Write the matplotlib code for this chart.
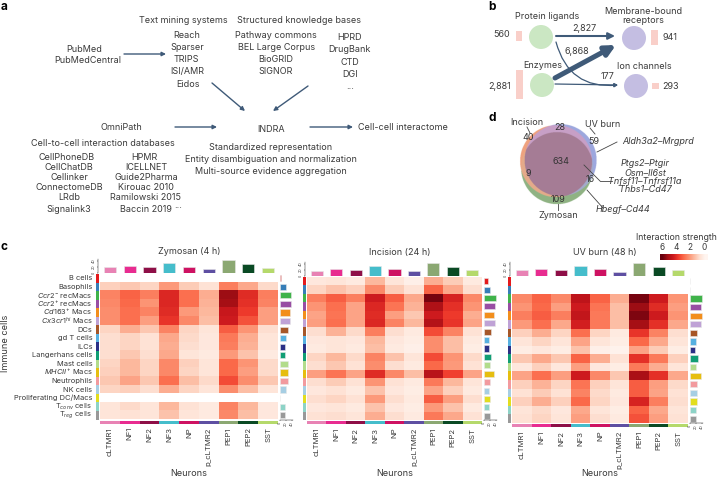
import numpy as np
from matplotlib import pyplot as plt
from matplotlib.colors import to_rgb
from matplotlib.patches import Circle

plt.rcParams['font.family'] = ['Inter', 'DejaVu Sans']
plt.rcParams['font.size'] = 6.5
plt.rcParams['mathtext.fontset'] = 'custom'
plt.rcParams['mathtext.rm'] = 'Inter'
plt.rcParams['mathtext.it'] = 'Inter:italic'

W, H = 722, 479
nan = np.nan

neurons = ['cLTMR1', 'NF1', 'NF2', 'NF3', 'NP', 'p_cLTMR2', 'PEP1', 'PEP2', 'SST']
immune = ['B cells', 'Basophils', '$\\mathit{Ccr2}^{-}$ recMacs', '$\\mathit{Ccr2}^{+}$ recMacs',
          '$\\mathit{Cd163}^{+}$ Macs', '$\\mathit{Cx3cr1}^{hi}$ Macs', 'DCs', 'gd T cells', 'ILCs',
          'Langerhans cells', 'Mast cells', '$\\mathit{MHCII}^{+}$ Macs', 'Neutrophils', 'NK cells',
          'Proliferating DC/Macs', 'T$_{conv}$ cells', 'T$_{reg}$ cells']
neuron_colors = ['#E882B4', '#E82C90', '#8E0F47', '#45BDCB', '#CE1262', '#5E4FA2', '#8BA872', '#0A4A24', '#B5D96B']
immune_colors = ['#E41A1C', '#377EB8', '#3FB34A', '#984EA3', '#F28E1C', '#BFA2D6', '#A65628', '#56B0E0', '#2B3086',
                 '#119E74', '#B2DC8B', '#E6BE10', '#F29A9E', '#A6CEE3', '#E2DD1E', '#8DD3C7', '#999999']

zymosan = [[nan] * 9,
           [1.1, 1.3, 1.0, 2.2, 1.2, 0.7, 2.7, 1.9, 0.9],
           [2.6, 3.2, 2.7, 4.3, 3.0, 1.8, 5.5, 4.2, 2.7],
           [2.5, 3.1, 2.3, 4.3, 3.0, 1.7, 5.4, 4.1, 2.6],
           [2.4, 3.0, 2.6, 4.2, 2.2, 1.6, 4.7, 3.9, 2.1],
           [2.4, 3.0, 2.1, 4.0, 2.5, 1.5, 4.6, 3.5, 2.1],
           [1.0, 1.8, 1.3, 2.6, 1.0, 0.6, 3.3, 2.3, 0.8],
           [0.8, 1.0, 0.7, 1.9, 0.9, 0.5, 2.8, 1.8, 0.6],
           [0.8, 1.0, 0.7, 1.8, 0.8, 0.5, 2.7, 1.7, 0.6],
           [0.8, 1.3, 0.8, 1.9, 0.6, 0.4, 2.2, 1.4, 0.4],
           [1.0, 1.6, 1.0, 2.5, 1.1, 0.6, 3.1, 2.3, 0.9],
           [1.1, 1.6, 1.0, 2.5, 1.0, 0.6, 3.1, 2.1, 0.9],
           [1.3, 2.0, 1.3, 3.0, 1.5, 0.9, 3.6, 2.4, 1.3],
           [1.0, 1.1, 0.8, 1.8, 1.0, 0.6, 2.4, 1.5, 0.6],
           [nan] * 9,
           [0.6, 0.9, 0.6, 1.6, 0.7, 0.4, 2.6, 1.6, 0.5],
           [0.6, 0.7, 0.6, 1.4, 0.6, 0.4, 2.5, 1.5, 0.5]]
incision = [[0.5, 0.6, 0.4, 1.6, 0.6, 0.2, 1.8, 1.2, 0.4],
            [1.0, 1.4, 1.1, 2.5, 1.2, 0.7, 3.2, 1.9, 0.8],
            [2.7, 3.3, 2.7, 4.6, 3.3, 1.9, 6.0, 4.4, 2.5],
            [2.3, 3.0, 2.0, 4.3, 2.9, 1.7, 5.2, 4.1, 2.3],
            [2.0, 2.9, 2.0, 4.2, 2.1, 1.3, 4.6, 3.9, 1.8],
            [2.1, 3.0, 2.0, 4.3, 2.6, 1.6, 5.1, 4.0, 2.0],
            [0.8, 1.7, 0.9, 2.7, 0.8, 0.4, 3.6, 2.6, 0.7],
            [0.5, 0.6, 0.5, 1.6, 0.5, 0.3, 2.4, 1.5, 0.4],
            [0.4, 0.6, 0.4, 1.5, 0.4, 0.2, 2.4, 1.5, 0.3],
            [1.0, 1.6, 0.9, 2.6, 1.4, 0.6, 3.6, 2.3, 0.9],
            [0.8, 1.3, 0.7, 2.4, 0.8, 0.4, 3.1, 2.2, 0.7],
            [2.1, 2.9, 2.0, 4.2, 2.5, 1.5, 5.0, 3.8, 2.0],
            [0.8, 1.2, 0.7, 2.3, 0.7, 0.4, 2.8, 1.6, 0.6],
            [0.5, 0.7, 0.4, 1.4, 0.5, 0.3, 2.0, 1.1, 0.4],
            [0.8, 1.0, 0.7, 2.2, 0.8, 0.4, 3.3, 2.1, 0.8],
            [0.5, 0.6, 0.4, 1.4, 0.5, 0.3, 2.2, 1.4, 0.4],
            [0.7, 0.8, 0.6, 1.8, 0.8, 0.4, 2.8, 1.9, 0.7]]
uv_burn = [[nan] * 9,
           [nan] * 9,
           [2.5, 3.2, 2.5, 4.9, 3.2, 1.8, 6.0, 4.6, 2.3],
           [2.3, 3.1, 2.1, 4.6, 2.9, 1.5, 5.5, 4.2, 2.1],
           [2.7, 3.3, 2.7, 4.8, 2.8, 1.5, 5.9, 4.6, 2.3],
           [2.2, 3.0, 1.9, 4.5, 2.8, 1.5, 5.4, 4.1, 1.9],
           [1.1, 1.8, 1.0, 3.0, 1.0, 0.4, 4.0, 2.6, 0.8],
           [0.6, 1.0, 0.6, 2.0, 0.6, 0.3, 3.1, 1.9, 0.6],
           [0.3, 0.5, 0.3, 1.4, 0.2, 0.1, 2.0, 1.2, 0.3],
           [1.3, 1.9, 1.3, 3.2, 1.8, 0.7, 4.1, 2.8, 1.1],
           [0.5, 1.1, 0.5, 2.1, 0.5, 0.3, 2.8, 1.8, 0.6],
           [2.0, 3.0, 2.1, 4.6, 2.5, 1.3, 5.3, 4.1, 1.9],
           [1.1, 1.7, 1.0, 2.9, 1.1, 0.6, 3.3, 2.1, 0.9],
           [0.7, 1.2, 0.7, 2.6, 0.9, 0.4, 3.3, 2.0, 0.7],
           [1.1, 1.8, 1.1, 3.1, 1.0, 0.5, 4.4, 2.7, 0.8],
           [0.6, 0.9, 0.5, 1.9, 0.6, 0.3, 3.2, 1.9, 0.6],
           [0.7, 1.0, 0.6, 2.1, 0.8, 0.4, 3.5, 2.1, 0.7]]

zymosan_top = [6, 7.3, 5.7, 10, 6.3, 4.3, 12.7, 9, 5]
incision_top = [5.3, 7.3, 5.7, 10, 6.7, 4.7, 12.7, 9.3, 5.7]
uv_top = [5.7, 7.3, 5.7, 10, 6.7, 4.3, 12.7, 9, 5.7]
zymosan_right = [1, 6.7, 11.7, 11, 10, 10.7, 8.3, 6.7, 5.7, 5.7, 8.3, 8.3, 8.7, 6.7, 0.4, 5.7, 5.3]
incision_right = [4, 6.7, 12.3, 11.3, 10, 11, 7, 5, 5, 7.3, 6, 10.7, 6, 5, 6.3, 5, 6]
uv_right = [0.7, 0.7, 12.3, 11.7, 12.3, 11.3, 7.7, 6.3, 5, 8.3, 6, 11, 7.3, 7, 7.3, 6, 6.3]

# panel a text: x, y, label
panel_a = [(183, 20, 'Text mining systems'), (299, 20, 'Structured knowledge bases'),
           (84, 49, 'PubMed'), (88, 60, 'PubMedCentral'),
           (187, 35, 'Reach'), (187, 47, 'Sparser'), (186, 59, 'TRIPS'), (187, 71, 'ISI/AMR'), (188, 84, 'Eidos'),
           (276, 35, 'Pathway commons'), (277, 47, 'BEL Large Corpus'), (276, 59, 'BioGRID'), (276, 71, 'SIGNOR'),
           (350, 37, 'HPRD'), (349, 49, 'DrugBank'), (350, 62, 'CTD'), (350, 74, 'DGI'), (350, 86, '...'),
           (121, 127, 'OmniPath'), (103, 143, 'Cell-to-cell interaction databases'),
           (67, 157, 'CellPhoneDB'), (69, 167, 'CellChatDB'), (69, 178, 'Cellinker'), (69, 188, 'ConnectomeDB'),
           (69, 198, 'LRdb'), (69, 209, 'Signalink3'),
           (144, 157, 'HPMR'), (146, 167, 'ICELLNET'), (146, 178, 'Guide2Pharma'), (146, 188, 'Kirouac 2010'),
           (146, 198, 'Ramilowski 2015'), (146, 209, 'Baccin 2019'), (178, 206, '...'),
           (271, 130, 'INDRA'), (271, 147, 'Standardized representation'),
           (271, 159, 'Entity disambiguation and normalization'), (271, 171, 'Multi-source evidence aggregation')]
arrows_a = [((124, 54), (166, 54)), ((212, 83), (245, 111)), ((308, 86), (273, 111)),
            ((175, 127), (217, 127)), ((310, 127), (353, 127))]

# panel b
b_values = [560, 2881, 941, 293]
b_flows = [2827, 6868, 177]

venn_labels = [(560, 127, '28'), (528, 138, '40'), (594, 141, '59'), (561, 161, '634'), (528, 173, '9'),
               (590, 180, '16'), (558, 200, '109')]
venn_names = [(527, 122, 'Incision'), (603, 124, 'UV burn'), (558, 216, 'Zymosan')]
venn_genes = [(658, 141, 'Aldh3a2–Mrgprd'), (645, 164, 'Ptgs2–Ptgir'), (645, 173, 'Osm–Il6st'),
              (645, 181, 'Tnfsf11–Tnfrsf11a'), (645, 190, 'Thbs1–Cd47'), (623, 210, 'Hbegf–Cd44')]
# colour of each region: (in zymosan, in incision, in uv burn)
venn_colors = {(1, 0, 0): '#8FB383', (0, 1, 0): '#EFA27F', (0, 0, 1): '#9DA8DE', (0, 1, 1): '#C79FC6',
               (1, 1, 0): '#E4AB8A', (1, 0, 1): '#A3AACB', (1, 1, 1): '#A57C95'}

fig = plt.figure(figsize=(W / 100, H / 100), dpi=100)


def px_axes(x0, y0, x1, y1):
    return fig.add_axes([x0 / W, 1 - y1 / H, (x1 - x0) / W, (y1 - y0) / H])


bg = px_axes(0, 0, W, H)
bg.axis('off')

text_col = '#3a3a3a'
arrow_col = '#3F5A78'


def label(x, y, s, **kw):
    kw.setdefault('ha', 'center')
    kw.setdefault('va', 'center')
    kw.setdefault('color', text_col)
    bg.text(x, y, s, **kw)


def arrow(p0, p1, lw=1.0, ms=6, rad=0.0):
    bg.annotate('', xy=p1, xytext=p0,
                arrowprops=dict(arrowstyle='-|>', color=arrow_col, lw=lw, mutation_scale=ms,
                                shrinkA=0, shrinkB=0, connectionstyle='arc3,rad=%s' % rad))


# panel d: flat colour per region
gx, gy = np.meshgrid(np.arange(515, 600, 0.25), np.arange(120, 208, 0.25))
in_z = (gx - 557) ** 2 + (gy - 168) ** 2 <= 36 ** 2
in_i = (gx - 556) ** 2 + (gy - 161) ** 2 <= 36 ** 2
in_u = (gx - 560.5) ** 2 + (gy - 160) ** 2 <= 36 ** 2
venn = np.ones(gx.shape + (3,))
for key, col in venn_colors.items():
    mask = (in_z == bool(key[0])) & (in_i == bool(key[1])) & (in_u == bool(key[2]))
    venn[mask] = to_rgb(col)
bg.imshow(venn, extent=[515, 600, 208, 120], interpolation='antialiased', aspect='auto')
bg.set_xlim(0, W)
bg.set_ylim(H, 0)

for s, x, y in [('a', 4, 7), ('b', 492, 7), ('c', 4, 247), ('d', 492, 118)]:
    label(x, y, s, fontweight='bold', fontsize=8.5, color='black')

for x, y, s in panel_a:
    label(x, y, s)
for p0, p1 in arrows_a:
    arrow(p0, p1, lw=1.0, ms=6)
label(358, 127, 'Cell-cell interactome', ha='left')

# panel b nodes
for x, y, col in [(541, 37, '#CBE7C3'), (542, 85, '#CBE7C3'), (634, 38, '#C4BEE2'), (636, 86, '#C4BEE2')]:
    bg.add_patch(Circle((x, y), 12, color=col, lw=0))
# bar height follows the count
for (x, yc), v in zip([(515.5, 36), (516, 84.5), (651, 37.5), (652, 86)], b_values):
    h = 0.164 * v ** 0.65
    bg.bar(x, h, width=6.5, bottom=yc - h / 2, align='edge', color='#F9CFC9', lw=0)
label(502, 34, '560')
label(500, 86, '2,881')
label(670, 37, '941')
label(671, 86, '293')
label(547, 16, 'Protein ligands')
label(543, 65, 'Enzymes')
label(643, 16, 'Membrane-bound\nreceptors', linespacing=1.1)
label(644, 66, 'Ion channels')
label(584, 28, '2,827')
label(577, 51, '6,868')
label(608, 76, '177')
arrow((556, 36), (615, 36), lw=b_flows[0] / 1900, ms=10)
arrow((555, 78), (616, 45), lw=b_flows[1] / 1900, ms=15)
arrow((555, 84), (618, 85), lw=0.9, ms=5)
arrow((556, 42), (618, 85), lw=0.9, ms=5, rad=0.42)

for x, y, s in venn_labels:
    label(x, y, s, color='#333333')
for x, y, s in venn_names:
    label(x, y, s)
for x, y, s in venn_genes:
    label(x, y, s, style='italic')
for xs, ys in [((527, 530), (127, 133)), ((590, 595), (128, 134)), ((597, 617), (152, 142)),
               ((584, 600), (165, 181)), ((600, 612), (181, 181)), ((587, 603), (190, 208)),
               ((558, 558), (204, 210))]:
    bg.plot(xs, ys, color='#444444', lw=0.6)

# panel c
label(6, 343, 'Immune cells', rotation=90, fontsize=6.6)
for x, s in [(189, 'Zymosan (4 h)'), (400, 'Incision (24 h)'), (605, 'UV burn (48 h)')]:
    label(x, 252, s, fontsize=6.5)

panels = [(zymosan, zymosan_top, zymosan_right, 100, 278, 274, 419.5),
          (incision, incision_top, incision_right, 307, 482, 277, 420),
          (uv_burn, uv_top, uv_right, 512, 688, 277, 423)]
cmap = plt.get_cmap('Reds').copy()
cmap.set_bad('white')

for k, (mat, top, right, x0, x1, y0, y1) in enumerate(panels):
    ax = px_axes(x0, y0, x1, y1)
    ax.imshow(np.array(mat), cmap=cmap, vmin=0, vmax=6.2, aspect='auto', interpolation='nearest')
    ax.set_xticks([])
    ax.set_yticks([])
    for sp in ax.spines.values():
        sp.set_visible(False)

    # row colours
    st = px_axes(x0 - 4, y0, x0 - 0.8, y1)
    st.bar([0] * 17, [1] * 17, bottom=np.arange(17) - 0.5, width=1, color=immune_colors, lw=0)
    st.set_ylim(16.5, -0.5)
    st.set_xlim(-0.5, 0.5)
    st.axis('off')
    if k == 0:
        for i, s in enumerate(immune):
            st.text(-1.6, i, s, ha='right', va='center', color=text_col, fontsize=5.4, clip_on=False)

    # column colours
    sb = px_axes(x0, y1 + 1, x1, y1 + 4)
    sb.bar(np.arange(9), [1] * 9, width=1, color=neuron_colors, lw=0)
    sb.set_xlim(-0.5, 8.5)
    sb.set_ylim(0, 1)
    sb.axis('off')
    for i, s in enumerate(neurons):
        sb.text(i, -1.2, s, rotation=90, ha='center', va='top', color=text_col, fontsize=5.6, clip_on=False)
    label((x0 + x1) / 2, 473, 'Neurons', fontsize=6.6)

    # top bars
    tp = px_axes(x0, y0 - 15, x1, y0 - 1)
    tp.bar(np.arange(9), top, width=0.62, color=neuron_colors, lw=0.4, edgecolor='#e8e8e8')
    tp.set_xlim(-0.5, 8.5)
    tp.set_ylim(0, 14)
    tp.patch.set_alpha(0)
    for sp in ['top', 'right', 'bottom']:
        tp.spines[sp].set_visible(False)
    tp.spines['left'].set_linewidth(0.3)
    tp.spines['left'].set_position(('outward', 1.5))
    tp.set_xticks([])
    tp.set_yticks([0, 6, 12])
    tp.set_yticklabels(['0', '20', '40'], fontsize=2.6, rotation=90, va='center', color=text_col)
    tp.tick_params(axis='y', length=1, width=0.3, pad=0.3)

    # right bars
    rb = px_axes(x1 + 1.5, y0, x1 + 15, y1)
    rb.barh(np.arange(17), right, height=0.72, color=immune_colors, lw=0.4, edgecolor='#e8e8e8')
    rb.set_ylim(16.5, -0.5)
    rb.set_xlim(0, 13.5)
    rb.patch.set_alpha(0)
    for sp in ['top', 'right', 'left']:
        rb.spines[sp].set_visible(False)
    rb.spines['bottom'].set_linewidth(0.3)
    rb.set_yticks([])
    rb.set_xticks([0, 6, 12])
    rb.set_xticklabels(['0', '20', '40'], fontsize=2.6, rotation=90, color=text_col)
    rb.tick_params(axis='x', length=1, width=0.3, pad=0.3)

# colour scale
label(676, 237, 'Interaction strength', fontsize=6.3)
cb = px_axes(660, 254, 707, 260)
cb.imshow(np.linspace(6.3, -0.4, 128)[None, :], cmap=cmap, vmin=0, vmax=6, aspect='auto', extent=[6.3, -0.4, 0, 1])
cb.set_yticks([])
cb.set_xticks([6, 4, 2, 0])
cb.xaxis.tick_top()
cb.tick_params(axis='x', length=0, pad=1.5, labelsize=6, labelcolor=text_col)
for sp in cb.spines.values():
    sp.set_visible(False)

plt.savefig('out.png', dpi=100)
